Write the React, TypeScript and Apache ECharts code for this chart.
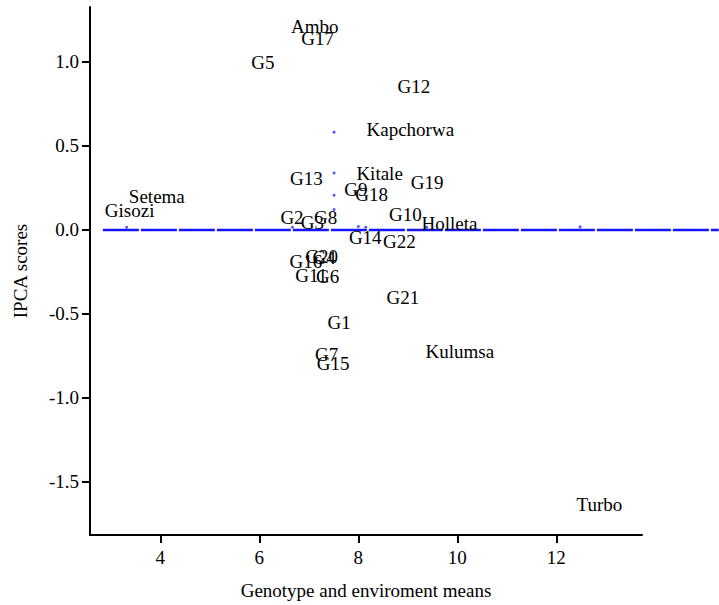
import React, { useEffect, useRef } from "react";
import * as echarts from "echarts";

// Label names and their positions (genotype/environment mean, IPCA score)
const labelNames = [
  "Ambo", "G17", "G5", "G12", "Kapchorwa", "G13", "Kitale", "G9", "G18", "G19",
  "Setema", "Gisozi", "G2", "G3", "G8", "G10", "Holleta", "G14", "G22", "G20",
  "G4", "G16", "G11", "G6", "G21", "G1", "G7", "G15", "Kulumsa", "Turbo",
];
const labelMeans = [
  7.12, 7.18, 6.07, 9.12, 9.05, 6.95, 8.43, 7.95, 8.27, 9.39,
  3.93, 3.38, 6.66, 7.07, 7.34, 8.95, 9.84, 8.14, 8.83, 7.26,
  7.31, 6.94, 7.05, 7.38, 8.9, 7.61, 7.36, 7.49, 10.05, 12.87,
];
const labelScores = [
  1.208, 1.135, 0.993, 0.853, 0.593, 0.302, 0.336, 0.238, 0.208, 0.277,
  0.198, 0.115, 0.069, 0.04, 0.072, 0.089, 0.034, -0.049, -0.069, -0.158,
  -0.163, -0.19, -0.273, -0.281, -0.405, -0.553, -0.741, -0.793, -0.722, -1.631,
];

// Small blue points
const dotMeans = [7.51, 7.51, 7.51, 7.51, 3.32, 6.67, 8.0, 8.15, 9.38, 12.48];
const dotScores = [0.579, 0.336, 0.204, 0.119, 0.014, 0.014, 0.018, 0.014, 0.014, 0.016];

// Reference line at IPCA = 0
const refLineMeans = [2.84, 15.28];
const refLineScores = [0, 0];

const xTicks = [4, 6, 8, 10, 12];
const yTicks = [-1.5, -1.0, -0.5, 0.0, 0.5, 1.0];

const FONT = "Liberation Serif";

const X_MIN = 2.58;
const X_MAX = 13.73;
const Y_MIN = -1.815;
const Y_MAX = 1.3227;
const GRID_LEFT = 90;
const GRID_RIGHT = 77;
const GRID_TOP = 7;
const GRID_BOTTOM = 69;
const W = 719;
const H = 605;

export default function App() {
  const ref = useRef<HTMLDivElement>(null);

  useEffect(() => {
    if (!ref.current) return;
    const chart = echarts.init(ref.current, undefined, { renderer: "svg" });
    const labelData = labelNames.map((n, i) => ({ name: n, value: [labelMeans[i], labelScores[i]] }));
    const dotData = dotMeans.map((m, i) => [m, dotScores[i]]);
    const lineData = refLineMeans.map((m, i) => [m, refLineScores[i]]);

    // second (hidden) x axis spanning to the right edge, same scale as main axis
    const plotW = W - GRID_LEFT - GRID_RIGHT;
    const x2Max = X_MIN + ((X_MAX - X_MIN) * (W - GRID_LEFT)) / plotW;

    const labelStyle = { fontFamily: FONT, fontSize: 19, color: "#000" };

    chart.setOption({
      animation: false,
      backgroundColor: "#fff",
      textStyle: { fontFamily: FONT },
      grid: [
        { left: GRID_LEFT, right: GRID_RIGHT, top: GRID_TOP, bottom: GRID_BOTTOM, containLabel: false },
        { left: GRID_LEFT, right: 0, top: GRID_TOP, bottom: GRID_BOTTOM, containLabel: false },
      ],
      xAxis: [
        {
          type: "value",
          gridIndex: 0,
          min: X_MIN,
          max: X_MAX,
          name: "Genotype and enviroment means",
          nameLocation: "middle",
          nameGap: 46,
          nameTextStyle: labelStyle,
          axisLine: { show: true, onZero: false, lineStyle: { color: "#000", width: 2 } },
          axisTick: { show: true, length: 8, customValues: xTicks, lineStyle: { color: "#000", width: 2 } },
          splitLine: { show: false },
          axisLabel: {
            customValues: xTicks,
            ...labelStyle,
            margin: 13,
            formatter: (v: number) => String(v),
          },
        },
        {
          type: "value",
          gridIndex: 1,
          min: X_MIN,
          max: x2Max,
          show: false,
        },
      ],
      yAxis: [
        {
          type: "value",
          gridIndex: 0,
          min: Y_MIN,
          max: Y_MAX,
          name: "IPCA scores",
          nameLocation: "middle",
          nameRotate: 90,
          nameGap: 60,
          nameTextStyle: labelStyle,
          axisLine: { show: true, onZero: false, lineStyle: { color: "#000", width: 2 } },
          axisTick: { show: true, length: 8, customValues: yTicks, lineStyle: { color: "#000", width: 2 } },
          splitLine: { show: false },
          axisLabel: {
            customValues: yTicks,
            ...labelStyle,
            margin: 11,
            formatter: (v: number) => v.toFixed(1),
          },
        },
        {
          type: "value",
          gridIndex: 1,
          min: Y_MIN,
          max: Y_MAX,
          show: false,
        },
      ],
      series: [
        {
          type: "line",
          xAxisIndex: 1,
          yAxisIndex: 1,
          data: lineData,
          symbol: "none",
          lineStyle: { color: "#1414ff", width: 2.5, type: [36, 2] },
          z: 2,
        },
        {
          type: "scatter",
          data: dotData,
          symbol: "circle",
          symbolSize: 3,
          itemStyle: { color: "#2a2aff" },
          z: 3,
        },
        {
          type: "scatter",
          data: labelData,
          symbol: "circle",
          symbolSize: 1,
          itemStyle: { color: "rgba(0,0,0,0)" },
          label: {
            show: true,
            position: "inside",
            formatter: "{b}",
            opacity: 1,
            ...labelStyle,
          },
          emphasis: { disabled: true },
          z: 4,
        },
      ],
    });
    return () => chart.dispose();
  }, []);

  return (
    <div
      ref={ref}
      style={{ position: "fixed", left: 0, top: 0, width: W, height: H, background: "#fff" }}
    />
  );
}
